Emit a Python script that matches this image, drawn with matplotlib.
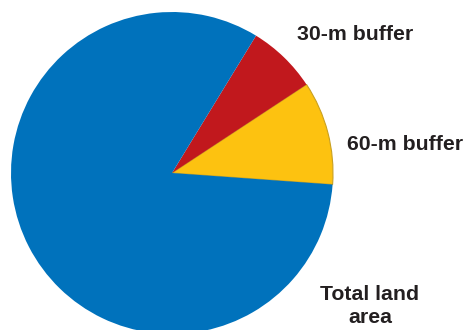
import matplotlib.pyplot as plt

# Share of land area in each buffer zone (percent)
labels = ['60-m buffer', '30-m buffer', 'Total land\narea']
shares = [10.4, 7.0, 82.6]
colors = ['#FDC210', '#C1181D', '#0072BC']

plt.rcParams['font.family'] = ['Liberation Sans', 'DejaVu Sans']

fig = plt.figure(figsize=(4.65, 3.30), dpi=100)
ax = fig.add_axes([0, 0, 1, 1])

wedges, _ = ax.pie(shares, colors=colors, startangle=-4.1, counterclock=True,
                   center=(172, 157), radius=161, frame=True,
                   wedgeprops=dict(linewidth=0))
# thin darker rim on the yellow wedge
wedges[0].set_edgecolor('#C9A020')
wedges[0].set_linewidth(0.8)

ax.set_xlim(0, 465)
ax.set_ylim(0, 330)
ax.set_aspect('equal')
ax.axis('off')

txt = dict(fontsize=15.3, fontweight='bold', color='#231F20')
ax.text(355, 296, labels[1], ha='center', va='center', **txt)
ax.text(405, 185, labels[0], ha='center', va='center', **txt)
ax.text(370, 24, labels[2], ha='center', va='center', linespacing=1.3, **txt)

fig.savefig('out.png', dpi=100)
